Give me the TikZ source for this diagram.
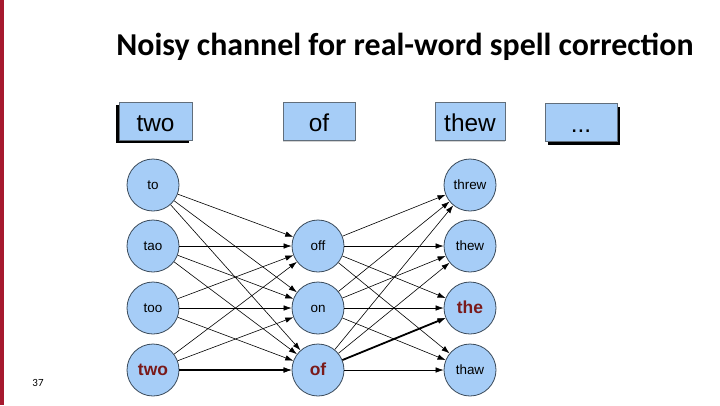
\documentclass[tikz,border=0pt]{standalone}
\usepackage{fontspec}
\setmainfont{Carlito}
\newfontfamily\arialfont{Liberation Sans}
\usetikzlibrary{arrows.meta,shadows}

\definecolor{nodeblue}{HTML}{A6CDF7}
\definecolor{nodeedge}{HTML}{3A4A5A}
\definecolor{hitred}{HTML}{7A1A1A}
\definecolor{barred}{HTML}{A6192E}

\tikzset{
    wordbox/.style={draw=nodeedge!80, fill=nodeblue, line width=0.8bp, minimum height=38bp,
        inner sep=0pt, text height=24bp, text depth=4bp, font=\arialfont\fontsize{24.5}{25}\selectfont},
    cand/.style={circle, draw=nodeedge, fill=nodeblue, line width=0.8bp, minimum size=52bp,
        inner sep=0pt, text height=9bp, text depth=0pt, font=\arialfont\fontsize{13.5}{14}\selectfont},
    hit/.style={text height=11bp, font=\arialfont\bfseries\fontsize{17.5}{18}\selectfont, text=hitred},
    chan/.style={-{Latex[length=8bp,width=5.5bp]}, line width=0.6bp},
    best/.style={chan, line width=1.8bp}
}

\begin{document}
\begin{tikzpicture}[x=1bp, y=-1bp]

        % page
        \useasboundingbox (0,0) rectangle (720,405);
        \fill[barred] (0,0) rectangle (4,405);

        % title and page number
        \node (title) at (405,47) {\bfseries\fontsize{32}{34}\selectfont Noisy channel for real-word spell correction};
        \node (pageno) at (38,383) {\fontsize{11}{12}\selectfont 37};

        % observed words
        \node[wordbox, minimum width=73bp, drop shadow={shadow xshift=-3bp, shadow yshift=-3bp, fill=black, opacity=1}] (wtwo) at (155.5,121) {two};
        \node[wordbox, minimum width=72bp, drop shadow={shadow xshift=0bp, shadow yshift=-2bp, opacity=0.35}] (wof) at (319,121) {of};
        \node[wordbox, minimum width=70bp, drop shadow={shadow xshift=0bp, shadow yshift=-2bp, opacity=0.35}] (wthew) at (470,121) {thew};
        \node[wordbox, minimum width=72bp, drop shadow={shadow xshift=3bp, shadow yshift=-4bp, fill=black, opacity=1}] (wdots) at (581,122) {...};

        % candidates for two
        \node[cand] (to) at (153,185) {to};
        \node[cand] (tao) at (153,246) {tao};
        \node[cand] (too) at (153,308) {too};
        \node[cand, hit] (two) at (153,370) {two};

        % candidates for of
        \node[cand] (off) at (318,246) {off};
        \node[cand] (on) at (318,308) {on};
        \node[cand, hit] (of) at (318,370) {of};

        % candidates for thew
        \node[cand] (threw) at (470,185) {threw};
        \node[cand] (thew) at (470,246) {thew};
        \node[cand, hit] (the) at (470,308) {the};
        \node[cand] (thaw) at (470,370) {thaw};

        % two -> of
        \foreach \a in {to,tao,too,two}
            \foreach \b in {off,on,of}
                \draw[chan] (\a) -- (\b);

        % of -> thew
        \foreach \a in {off,on,of}
            \foreach \b in {threw,thew,the,thaw}
                \draw[chan] (\a) -- (\b);

        % best path
        \draw[best] (two) -- (of);
        \draw[best] (of) -- (the);

    \end{tikzpicture}
\end{document}
